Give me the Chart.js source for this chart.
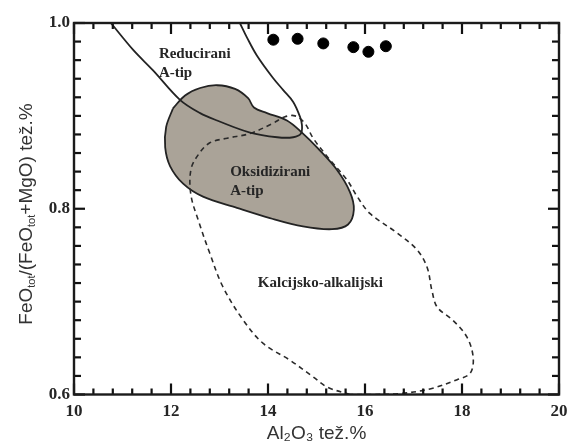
<!DOCTYPE html>
<html>
<head>
<meta charset="utf-8">
<script src="https://cdn.jsdelivr.net/npm/chart.js@4.4.1/dist/chart.umd.min.js"></script>
<style>
  html, body { margin: 0; padding: 0; background: #fff; }
</style>
</head>
<body>
<canvas id="chart" width="567" height="442"></canvas>
<script>
// sample points (black dots)
const sampleAl = [14.11, 14.61, 15.14, 15.76, 16.07, 16.43];
const sampleFe = [0.982, 0.983, 0.978, 0.974, 0.969, 0.975];

// "Reducirani A-tip" boundary, open against the top axis
const reducedAl = [10.76, 11.22, 11.63, 12.19, 12.60, 12.95, 13.63, 14.19, 14.52, 14.68, 14.70, 14.66, 14.52, 14.31, 14.10, 13.77, 13.57, 13.42];
const reducedFe = [1.000, 0.971, 0.949, 0.917, 0.903, 0.895, 0.882, 0.877, 0.877, 0.881, 0.890, 0.899, 0.915, 0.928, 0.941, 0.965, 0.984, 1.000];

// "Oksidizirani A-tip" field (grey, closed)
const oxidAl = [12.04, 12.29, 12.60, 12.95, 13.32, 13.59, 13.71, 13.98, 14.39, 14.70, 15.03, 15.42, 15.69, 15.77, 15.65, 15.32, 14.72, 14.04, 13.36, 12.66, 12.25, 11.98, 11.88, 11.90, 12.04];
const oxidFe = [0.908, 0.922, 0.930, 0.933, 0.929, 0.919, 0.909, 0.903, 0.895, 0.882, 0.865, 0.842, 0.818, 0.799, 0.783, 0.778, 0.781, 0.790, 0.801, 0.813, 0.827, 0.846, 0.866, 0.888, 0.908];

// "Kalcijsko-alkalijski" field (dashed, closed)
const calcAl = [15.69, 15.22, 14.93, 14.45, 13.90, 13.49, 13.07, 12.80, 12.56, 12.41, 12.41, 12.56, 12.80, 13.16, 13.63, 14.10, 14.35, 14.56, 14.76, 14.93, 15.24, 15.63, 15.84, 16.10, 16.66, 17.07, 17.28, 17.38, 17.49, 17.81, 18.10, 18.23, 18.17, 17.90, 17.34, 16.72, 16.10, 15.69];
const calcFe = [0.600, 0.608, 0.619, 0.637, 0.655, 0.680, 0.716, 0.752, 0.788, 0.815, 0.842, 0.858, 0.871, 0.876, 0.881, 0.892, 0.899, 0.900, 0.892, 0.876, 0.855, 0.831, 0.813, 0.795, 0.774, 0.756, 0.737, 0.712, 0.694, 0.680, 0.662, 0.640, 0.623, 0.616, 0.606, 0.601, 0.600, 0.600];

const xTicks = [10, 12, 14, 16, 18, 20];
const yTicks = [0.6, 0.8, 1.0];
// minor tick positions (inward ticks on all sides)
const xMinor = [10, 10.4, 10.8, 11.2, 11.6, 12, 12.4, 12.8, 13.2, 13.6, 14, 14.4, 14.8, 15.2, 15.6, 16, 16.4, 16.8, 17.2, 17.6, 18, 18.4, 18.8, 19.2, 19.6, 20];
const yMinor = [0.6, 0.62, 0.64, 0.66, 0.68, 0.7, 0.72, 0.74, 0.76, 0.78, 0.8, 0.82, 0.84, 0.86, 0.88, 0.9, 0.92, 0.94, 0.96, 0.98, 1.0];

// field names, anchored in data units (left edge, middle of first line)
const fieldNames = [['Reducirani', 'A-tip'], ['Oksidizirani', 'A-tip'], ['Kalcijsko-alkalijski']];
const fieldAl = [11.75, 13.22, 13.79];
const fieldFe = [0.967, 0.839, 0.720];

const toPts = (xs, ys) => xs.map((v, i) => ({ x: v, y: ys[i] }));

const ink = '#262626';

function drawTicks(chart) {
  const ctx = chart.ctx, a = chart.chartArea;
  const sx = chart.scales.x, sy = chart.scales.y;
  ctx.save();
  ctx.fillStyle = '#111';
  xMinor.forEach((v, i) => {
    const px = sx.getPixelForValue(v);
    const len = i % 5 === 0 ? 11 : 6;
    ctx.fillRect(px - 1.1, a.bottom - len, 2.2, len);
    ctx.fillRect(px - 1.1, a.top, 2.2, len);
  });
  yMinor.forEach((v, i) => {
    const py = sy.getPixelForValue(v);
    const len = i % 10 === 0 ? 11 : 7;
    ctx.fillRect(a.left, py - 1.1, len, 2.2);
    ctx.fillRect(a.right - len, py - 1.1, len, 2.2);
  });
  ctx.restore();
}

// frame, inward ticks, field names and axis titles
const decorPlugin = {
  id: 'decor',
  afterDraw(chart) {
    const ctx = chart.ctx;
    const a = chart.chartArea;
    const sx = chart.scales.x, sy = chart.scales.y;

    drawTicks(chart);

    ctx.save();
    ctx.strokeStyle = '#1b1b1b';
    ctx.lineWidth = 2.4;
    ctx.strokeRect(a.left, a.top, a.right - a.left, a.bottom - a.top);

    // field names
    ctx.fillStyle = ink;
    ctx.font = 'bold 15px "Liberation Serif"';
    ctx.textAlign = 'left';
    ctx.textBaseline = 'middle';
    fieldNames.forEach((lines, i) => {
      const px = sx.getPixelForValue(fieldAl[i]);
      const py = sy.getPixelForValue(fieldFe[i]);
      lines.forEach((t, j) => ctx.fillText(t, px, py + j * 19));
    });

    // x title
    ctx.font = '19px "Liberation Sans"';
    ctx.textAlign = 'center';
    ctx.textBaseline = 'alphabetic';
    ctx.fillStyle = '#333';
    ctx.fillText('Al\u2082O\u2083 te\u017e.%', (a.left + a.right) / 2, 439);

    // y title with subscripts, rotated
    const segs = [['FeO', 0], ['tot', 1], ['/(FeO', 0], ['tot', 1], ['+MgO) te\u017e.%', 0]];
    const big = '19px "Liberation Sans"', small = '11px "Liberation Sans"';
    let total = 0;
    segs.forEach(([t, s]) => { ctx.font = s ? small : big; total += ctx.measureText(t).width; });
    ctx.translate(32, 214);
    ctx.rotate(-Math.PI / 2);
    ctx.textAlign = 'left';
    let cx = -total / 2;
    segs.forEach(([t, s]) => {
      ctx.font = s ? small : big;
      ctx.fillText(t, cx, s ? 3 : 0);
      cx += ctx.measureText(t).width;
    });
    ctx.restore();
  }
};

new Chart(document.getElementById('chart'), {
  type: 'scatter',
  data: {
    datasets: [
      {
        type: 'line',
        label: 'Oksidizirani A-tip',
        data: toPts(oxidAl, oxidFe),
        borderColor: '#232323',
        borderWidth: 1.8,
        backgroundColor: '#aaa398',
        fill: 'shape',
        tension: 0.35,
        pointRadius: 0,
        order: 4
      },
      {
        type: 'line',
        label: 'Kalcijsko-alkalijski',
        data: toPts(calcAl, calcFe),
        borderColor: '#2a2a2a',
        borderWidth: 1.6,
        borderDash: [5, 4],
        fill: false,
        tension: 0.35,
        pointRadius: 0,
        order: 3
      },
      {
        type: 'line',
        label: 'Reducirani A-tip',
        data: toPts(reducedAl, reducedFe),
        borderColor: '#232323',
        borderWidth: 1.8,
        fill: false,
        tension: 0.35,
        pointRadius: 0,
        order: 2
      },
      {
        label: 'Uzorci',
        data: toPts(sampleAl, sampleFe),
        backgroundColor: '#000',
        borderColor: '#000',
        pointRadius: 5.5,
        order: 1
      }
    ]
  },
  options: {
    responsive: false,
    animation: false,
    devicePixelRatio: 1,
    layout: { padding: { left: 0, top: 23, right: 0, bottom: 0 } },
    plugins: { legend: { display: false }, tooltip: { enabled: false } },
    scales: {
      x: {
        type: 'linear',
        min: 10,
        max: 20,
        afterBuildTicks: s => { s.ticks = xTicks.map(v => ({ value: v })); },
        afterFit: s => { s.height = 47.5; s.paddingRight = 8; s.paddingLeft = 0; },
        grid: { display: false, drawTicks: false },
        border: { display: false },
        ticks: {
          padding: 7,
          color: ink,
          font: { family: 'Liberation Serif', size: 17, weight: 'bold' },
          callback: v => String(v)
        }
      },
      y: {
        type: 'linear',
        min: 0.6,
        max: 1.0,
        afterBuildTicks: s => { s.ticks = yTicks.map(v => ({ value: v })); },
        afterFit: s => { s.width = 74; },
        grid: { display: false, drawTicks: false },
        border: { display: false },
        ticks: {
          padding: 4,
          color: ink,
          font: { family: 'Liberation Serif', size: 17, weight: 'bold' },
          callback: v => v.toFixed(1)
        }
      }
    }
  },
  plugins: [decorPlugin]
});
</script>
</body>
</html>
